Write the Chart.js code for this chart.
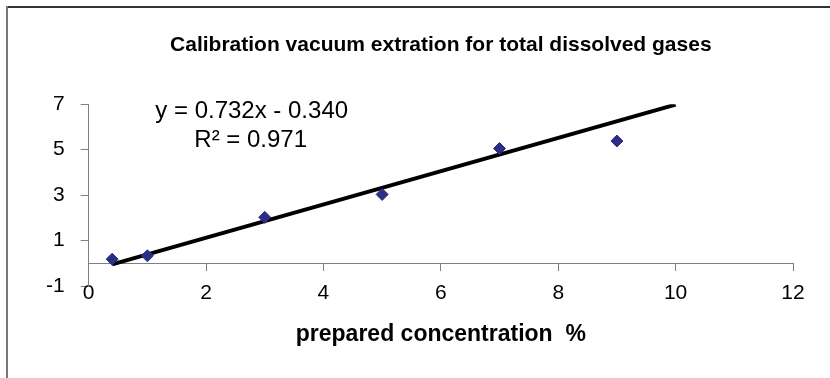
<!DOCTYPE html>
<html>
<head>
<meta charset="utf-8">
<script src="https://cdn.jsdelivr.net/npm/chart.js@4.4.1/dist/chart.umd.min.js"></script>
<style>
    body { margin: 0; background: #fff; }
</style>
</head>
<body>
<canvas id="chart" width="830" height="378"></canvas>
<script>
// measured points (prepared concentration %, measured)
const concentration = [0.4, 1, 3, 5, 7, 9];
const measured = [0.18, 0.33, 2.02, 3.03, 5.05, 5.38];

// trendline as printed on the chart
const trendSlope = 0.732;
const trendIntercept = -0.340;
const trendRange = [0.4, 10];
const equationLines = ['y = 0.732x - 0.340', 'R\u00b2 = 0.971'];

const xTicks = [0, 2, 4, 6, 8, 10, 12];
const yTicks = [-1, 1, 3, 5, 7];

const titleText = 'Calibration vacuum extration for total dissolved gases';
const xTitle = 'prepared concentration  %';

const points = concentration.map((c, i) => ({ x: c, y: measured[i] }));
const trend = trendRange.map(x => ({ x: x, y: trendSlope * x + trendIntercept }));

const fontFamily = '"Liberation Sans", Arial, sans-serif';

// frame lines, equation text and x axis title
const decorations = {
    id: 'decorations',
    beforeDraw(chart) {
        const ctx = chart.ctx;
        ctx.save();
        ctx.fillStyle = '#fff';
        ctx.fillRect(0, 0, chart.width, chart.height);
        ctx.strokeStyle = '#333';
        ctx.lineWidth = 2;
        ctx.beginPath();
        ctx.moveTo(6, 7);
        ctx.lineTo(chart.width, 7);
        ctx.stroke();
        ctx.strokeStyle = '#777';
        ctx.beginPath();
        ctx.moveTo(7, 6);
        ctx.lineTo(7, chart.height);
        ctx.stroke();
        ctx.restore();
    },
    afterDraw(chart) {
        const ctx = chart.ctx;
        const area = chart.chartArea;
        ctx.save();
        ctx.fillStyle = '#000';
        ctx.textAlign = 'center';
        ctx.textBaseline = 'alphabetic';
        ctx.font = '24px ' + fontFamily;
        ctx.fillText(equationLines[0], area.left + 163, area.top + 14);
        ctx.fillText(equationLines[1], area.left + 162, area.top + 43);
        ctx.font = 'bold 23px ' + fontFamily;
        ctx.fillText(xTitle, (area.left + area.right) / 2, area.bottom + 55);
        ctx.restore();
    }
};

new Chart(document.getElementById('chart'), {
    type: 'scatter',
    data: {
        datasets: [{
            label: 'measured',
            data: points,
            backgroundColor: '#2E2D86',
            borderColor: '#2E2D86',
            pointStyle: 'rectRot',
            pointRadius: 6,
            pointHoverRadius: 6,
            order: 1
        }, {
            type: 'line',
            label: 'trend',
            data: trend,
            borderColor: '#000',
            borderWidth: 4,
            pointRadius: 0,
            fill: false,
            order: 2
        }]
    },
    plugins: [decorations],
    options: {
        responsive: false,
        animation: false,
        devicePixelRatio: 1,
        layout: { padding: { left: 30, right: 37, top: 0, bottom: 92 } },
        plugins: {
            legend: { display: false },
            tooltip: { enabled: false },
            title: {
                display: true,
                text: titleText,
                fullSize: false,
                color: '#000',
                font: { family: fontFamily, size: 21, weight: 'bold' },
                padding: { top: 33, bottom: 46 }
            }
        },
        scales: {
            x: {
                type: 'linear',
                position: { y: 0 },
                min: 0,
                max: 12,
                afterBuildTicks: axis => { axis.ticks = xTicks.map(v => ({ value: v })); },
                ticks: {
                    color: '#000',
                    padding: 10,
                    font: { family: fontFamily, size: 21 }
                },
                grid: { drawOnChartArea: false, tickLength: 7, color: '#808080' },
                border: { color: '#808080', width: 1 }
            },
            y: {
                type: 'linear',
                min: -1,
                max: 7,
                afterBuildTicks: axis => { axis.ticks = yTicks.map(v => ({ value: v })); },
                ticks: {
                    color: '#000',
                    padding: 16,
                    font: { family: fontFamily, size: 21 }
                },
                grid: { drawOnChartArea: false, tickLength: 8, color: '#808080' },
                border: { color: '#808080', width: 1 }
            }
        }
    }
});
</script>
</body>
</html>
